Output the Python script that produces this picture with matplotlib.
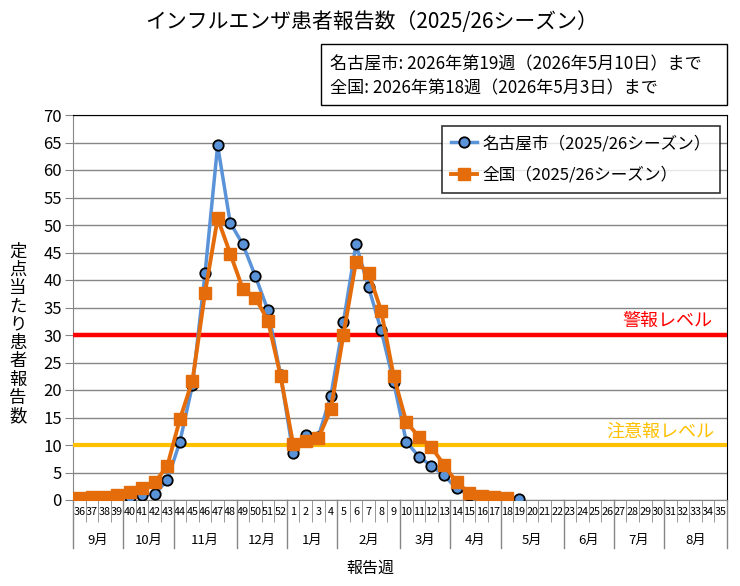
import matplotlib
matplotlib.use("Agg")
import matplotlib.pyplot as plt
import numpy as np
from matplotlib.patches import Rectangle

plt.rcParams['font.family'] = ['Noto Sans CJK JP', 'DejaVu Sans']

# report weeks (season runs from week 36 to week 35)
weeks = [str(w) for w in range(36, 53)] + [str(w) for w in range(1, 36)]
months = ['9月', '10月', '11月', '12月', '1月', '2月', '3月', '4月', '5月', '6月', '7月', '8月']
month_weeks = [4, 4, 5, 4, 4, 5, 4, 4, 5, 4, 4, 5]

nagoya = [0.3, 0.4, 0.5, 0.6, 0.6, 0.9, 1.1, 3.6, 10.6, 20.9, 41.2, 64.5, 50.4, 46.5, 40.7, 34.5, 22.7,
          8.5, 11.8, 11.5, 18.9, 32.3, 46.5, 38.7, 30.9, 21.4, 10.6, 7.9, 6.2, 4.5, 2.1, 0.9, 0.7, 0.6, 0.4, 0.2]
national = [0.4, 0.6, 0.6, 0.9, 1.5, 2.2, 3.2, 6.2, 14.7, 21.7, 37.7, 51.2, 44.8, 38.4, 36.8, 32.6, 22.6,
            10.2, 10.8, 11.2, 16.5, 30.0, 43.3, 41.3, 34.4, 22.5, 14.2, 11.5, 9.6, 6.4, 3.2, 1.3, 0.7, 0.5, 0.4]

warning_level = 30
caution_level = 10

fig = plt.figure(figsize=(7.4, 5.86), dpi=100)
ax = fig.add_axes([73/740, 1 - 500/586, 654/740, 385/586])

ax.plot(np.arange(len(nagoya)), nagoya, '-', color='#5B93D8', lw=2.5, marker='o', markersize=7.5,
        markerfacecolor='#5B93D8', markeredgecolor='black', markeredgewidth=1.3,
        label='名古屋市（2025/26シーズン）', zorder=4)
ax.plot(np.arange(len(national)), national, '-', color='#E46C0A', lw=2.8, marker='s', markersize=8,
        markerfacecolor='#E46C0A', markeredgecolor='#E46C0A',
        label='全国（2025/26シーズン）', zorder=5)

ax.axhline(warning_level, color='#FF0000', lw=3.2, zorder=3)
ax.axhline(caution_level, color='#FFC000', lw=3.0, zorder=3)
ax.text(50.3, warning_level + 1.0, '警報レベル', color='#FF0000', fontsize=13, ha='right', va='bottom')
ax.text(50.5, caution_level + 0.7, '注意報レベル', color='#FFC000', fontsize=13, ha='right', va='bottom')

ax.set_xlim(-0.5, len(weeks) - 0.5)
ax.set_ylim(0, 70)
ax.set_yticks(range(0, 71, 5))
ax.tick_params(axis='y', labelsize=12, length=6, color='#868686', pad=2)
ax.yaxis.grid(True, color='#868686', lw=1)
ax.set_axisbelow(True)

ax.set_xticks(range(len(weeks)))
ax.set_xticklabels(weeks, fontsize=7.8)
ax.tick_params(axis='x', length=0, pad=5)
ax.set_xticks(np.arange(-0.5, len(weeks), 1), minor=True)
ax.tick_params(axis='x', which='minor', length=16, color='#868686', direction='out')

for side in ['left', 'bottom']:
    ax.spines[side].set_color('#868686')
for side in ['top', 'right']:
    ax.spines[side].set_color('black')

# month row
tr = ax.get_xaxis_transform()
start = -0.5
for m, n in zip(months, month_weeks):
    ax.plot([start, start], [0, -0.125], color='#868686', lw=1, transform=tr, clip_on=False)
    ax.text(start + n / 2, -0.104, m, transform=tr, ha='center', va='center', fontsize=9.5)
    start += n
ax.plot([start, start], [0, -0.125], color='#868686', lw=1, transform=tr, clip_on=False)

fig.text(370/740, 1 - 568/586, '報告週', ha='center', va='center', fontsize=11.5)
fig.text(18/740, 1 - 334/586, '\n'.join('定点当たり患者報告数'), ha='center', va='center',
         fontsize=12.5, linespacing=1.02)

fig.text(372/740, 1 - 22/586, 'インフルエンザ患者報告数（2025/26シーズン）', ha='center', va='center', fontsize=15)

# note box
fig.patches.append(Rectangle((321/740, 1 - 105/586), 406/740, 61/586, transform=fig.transFigure,
                             facecolor='white', edgecolor='black', lw=1))
fig.text(330/740, 1 - 64/586, '名古屋市: 2026年第19週（2026年5月10日）まで', ha='left', va='center', fontsize=12.3)
fig.text(330/740, 1 - 88/586, '全国: 2026年第18週（2026年5月3日）まで', ha='left', va='center', fontsize=12.3)

leg = ax.legend(loc='upper right', bbox_to_anchor=(647/654, 374/385), fontsize=12, frameon=True,
                fancybox=False, edgecolor='black', borderpad=0.55, labelspacing=0.85,
                handlelength=1.6, handletextpad=0.3, borderaxespad=0)
leg.get_frame().set_linewidth(1.2)

fig.savefig('out.png', dpi=100)
